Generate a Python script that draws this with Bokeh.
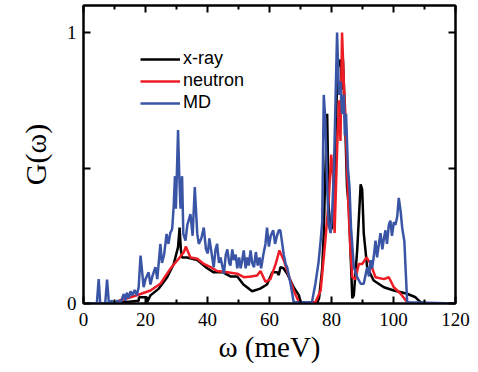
from bokeh.plotting import figure
from bokeh.models import (LinearAxis, FixedTicker, Range1d, Legend, LegendItem)
from bokeh.embed import file_html
from bokeh.resources import INLINE

# ---- data ----
xray_w = [5, 10, 13, 17.8, 17.9, 20.4, 20.5, 21.6, 24.3, 27, 29.1, 30.5, 31, 31.4, 31.8,
          33.4, 36.7, 39.9, 42, 45, 47.4, 49.6, 51.6, 54.4, 57, 59.2, 60.9, 62.5, 63, 63.5,
          64.5, 65.7, 67.8, 69.5, 70, 75.5, 76, 77, 77.5, 78, 78.6, 79.1, 79.7, 80.2, 80.8,
          81.3, 82, 82.9, 83.4, 83.7, 84.5, 85, 85.6, 86.1, 86.7, 87.2, 88.3, 89.4, 89.9,
          90.4, 91.5, 93.6, 96.9, 100.1, 104.4, 107.1, 108.7, 110]
xray_g = [0, 0, 0.005, 0.01, 0.023, 0.023, 0.005, 0.03, 0.055, 0.097, 0.146, 0.208, 0.28, 0.2, 0.17,
          0.17, 0.16, 0.13, 0.115, 0.115, 0.1, 0.1, 0.07, 0.045, 0.055, 0.07, 0.115, 0.115, 0.105, 0.134,
          0.13, 0.11, 0.06, 0.03, 0.005, 0.005, 0.02, 0.13, 0.26, 0.48, 0.70, 0.355, 0.27, 0.28, 0.38,
          0.63, 0.87, 0.90, 0.79, 0.9, 0.63, 0.43, 0.355, 0.2, 0.02, 0.03, 0.2, 0.44, 0.42,
          0.26, 0.134, 0.085, 0.06, 0.048, 0.036, 0.023, 0.005, 0]

neutron_w = [10, 11.4, 15.2, 18.4, 21.6, 24.8, 28, 30.7, 32.4, 33, 34.5, 36.7, 38.8, 41, 43.1,
             46.4, 49.6, 51.7, 54, 56, 57.1, 58.7, 60.3, 62, 63.2, 64.6, 66.2, 67.8, 69.5, 74.8,
             76.5, 78, 79.1, 79.9, 80.5, 81, 81.8, 82.4, 82.9, 83.4, 84, 84.5, 85, 85.6, 86.1,
             86.7, 87.7, 88.8, 89.9, 91.3, 92.6, 94.2, 96.9, 98.5, 100.1, 102.3, 104.4, 106]
neutron_g = [0, 0.01, 0.023, 0.035, 0.048, 0.073, 0.128, 0.165, 0.19, 0.21, 0.17, 0.165, 0.146, 0.134, 0.12,
             0.115, 0.11, 0.097, 0.1, 0.103, 0.12, 0.08, 0.09, 0.146, 0.196, 0.16, 0.103, 0.048, 0.005, 0.005,
             0.048, 0.23, 0.38, 0.55, 0.47, 0.26, 0.565, 0.75, 0.60, 1.0, 0.81, 0.69, 0.5, 0.32, 0.2,
             0.097, 0.09, 0.146, 0.146, 0.17, 0.146, 0.097, 0.09, 0.097, 0.06, 0.036, 0.005, 0]

md_w = [0, 4.3, 4.9, 5.4, 7, 7.6, 8.2, 9, 10, 11, 12, 13, 13.5, 14, 14.6, 15.2, 15.8, 16.5, 17.2,
        17.8, 18.4, 19.4, 20, 21, 21.6, 22.2, 23.2, 23.8, 24.8, 25.3, 26, 26.8, 27.4, 28, 28.6,
        29.1, 29.5, 29.8, 30.1, 30.5, 30.9, 31.3, 31.8, 32.2, 32.9, 33.5, 34.5, 35.2, 35.9, 36.7,
        37.2, 38, 38.8, 39.5, 40.1, 40.6, 41, 42, 42.6, 43.1, 43.7, 44.2, 45.3, 45.9, 46.4, 47,
        47.4, 48, 48.5, 49.1, 49.6, 50.2, 50.7, 51.2, 51.7, 52.3, 52.8, 53.3, 53.9, 54.4, 55,
        55.6, 56.2, 56.8, 57.3, 58, 58.7, 59.2, 59.8, 60.4, 61.2, 61.8, 62.4, 63, 63.5, 64,
        64.6, 65.2, 65.7, 66.8, 67.8, 73.7, 74.8, 75.8, 76.5, 77, 77.5, 78, 78.6, 79.1, 79.7,
        80.2, 80.8, 81.3, 81.8, 82.4, 82.9, 83.4, 84, 84.3, 84.7, 85.3, 85.8, 86.3, 87.2, 88.3,
        89.4, 90.4, 91.5, 92.1, 92.6, 93.1, 93.7, 94.2, 94.7, 95.3, 95.8, 96.4, 96.9, 97.4,
        97.9, 98.5, 99, 99.5, 100.1, 100.6, 101.2, 101.7, 102.3, 102.8, 103.5, 104.4, 120]
md_g = [0, 0, 0.09, 0, 0, 0.088, 0, 0.01, 0, 0.01, 0.005, 0.035, 0.01, 0.04, 0.02, 0.045, 0.03, 0.05, 0.03,
        0.06, 0.177, 0.06, 0.09, 0.115, 0.07, 0.1, 0.134, 0.09, 0.22, 0.15, 0.18, 0.257, 0.22, 0.26, 0.275,
        0.36, 0.47, 0.35, 0.47, 0.64, 0.47, 0.35, 0.47, 0.257, 0.232, 0.29, 0.33, 0.25, 0.43, 0.257,
        0.22, 0.24, 0.28, 0.2, 0.185, 0.24, 0.21, 0.134, 0.2, 0.22, 0.15, 0.17, 0.11, 0.18, 0.2, 0.15,
        0.14, 0.2, 0.16, 0.18, 0.13, 0.17, 0.13, 0.16, 0.196, 0.13, 0.17, 0.14, 0.196, 0.15, 0.134,
        0.19, 0.14, 0.17, 0.13, 0.18, 0.22, 0.28, 0.21, 0.25, 0.27, 0.22, 0.25, 0.27, 0.27, 0.23,
        0.18, 0.146, 0.134, 0.073, 0.005, 0.005, 0.073, 0.15, 0.232, 0.3, 0.77, 0.68, 0.43, 0.29, 0.26,
        0.33, 0.50, 0.75, 1.0, 0.77, 0.82, 0.7, 0.77, 0.62, 0.7, 0.5, 0.43, 0.28, 0.134, 0.097,
        0.073, 0.073, 0.134, 0.1, 0.16, 0.13, 0.18, 0.232, 0.17, 0.22, 0.26, 0.2, 0.24, 0.27,
        0.22, 0.29, 0.306, 0.25, 0.3, 0.29, 0.32, 0.39, 0.34, 0.28, 0.23, 0.005, 0]

x_ticks = [0, 20, 40, 60, 80, 100, 120]
x_minor = [10, 30, 50, 70, 90, 110]
y_ticks = [0, 0.5, 1]
y_labels = {0: "0", 0.5: "", 1: "1"}
series_names = ["x-ray", "neutron", "MD"]
series_colors = ["#000000", "#ee1c25", "#3a55a6"]

SERIF = "Liberation Serif"

p = figure(width=478, height=372, output_backend="svg", toolbar_location=None,
           x_range=Range1d(0, 120), y_range=Range1d(0, 1.1))
p.min_border_left = 83
p.min_border_right = 23
p.min_border_top = 5
p.min_border_bottom = 69
p.background_fill_color = "white"
p.border_fill_color = "white"
p.outline_line_color = "black"
p.outline_line_width = 2
p.xgrid.visible = False
p.ygrid.visible = False


def style_axis(ax, ticks, minor, show_labels):
    ax.ticker = FixedTicker(ticks=ticks, minor_ticks=minor)
    ax.axis_line_color = "black"
    ax.axis_line_width = 2
    ax.major_tick_in = 7
    ax.major_tick_out = 0
    ax.minor_tick_in = 4
    ax.minor_tick_out = 0
    ax.major_tick_line_width = 2
    ax.minor_tick_line_width = 2
    ax.major_label_text_font = SERIF
    ax.major_label_text_font_size = "19px"
    ax.major_label_text_color = "black"
    ax.axis_label_text_color = "black"
    if not show_labels:
        ax.major_label_text_font_size = "0px"
        ax.major_label_standoff = 0


style_axis(p.xaxis[0], x_ticks, x_minor, True)
style_axis(p.yaxis[0], y_ticks, [], True)
p.yaxis[0].major_label_overrides = y_labels
p.xaxis[0].major_label_standoff = 9
p.yaxis[0].major_label_standoff = 7
p.yaxis[0].major_label_orientation = "horizontal"

p.xaxis[0].axis_label = "ω (meV)"
p.xaxis[0].axis_label_text_font = SERIF
p.xaxis[0].axis_label_text_font_size = "29px"
p.xaxis[0].axis_label_text_font_style = "normal"
p.xaxis[0].axis_label_standoff = 2
p.yaxis[0].axis_label = "G(ω)"
p.yaxis[0].axis_label_text_font = SERIF
p.yaxis[0].axis_label_text_font_size = "30px"
p.yaxis[0].axis_label_text_font_style = "normal"
p.yaxis[0].axis_label_standoff = 12

top_ax = LinearAxis()
style_axis(top_ax, x_ticks, x_minor, False)
top_ax.major_label_overrides = {t: "" for t in x_ticks}
p.add_layout(top_ax, "above")
right_ax = LinearAxis()
style_axis(right_ax, y_ticks, [], False)
right_ax.major_label_overrides = {t: "" for t in y_ticks}
p.add_layout(right_ax, "right")

renderers = []
for w, g, c in [(xray_w, xray_g, series_colors[0]),
                (neutron_w, neutron_g, series_colors[1]),
                (md_w, md_g, series_colors[2])]:
    r = p.line(w, g, line_color=c, line_width=2.5)
    renderers.append(r)

legend = Legend(items=[LegendItem(label=n, renderers=[r]) for n, r in zip(series_names, renderers)],
                location=(57, 190))
legend.border_line_color = None
legend.background_fill_alpha = 0
legend.label_text_font = "Liberation Sans"
legend.label_text_font_size = "18px"
legend.label_text_color = "black"
legend.glyph_width = 40
legend.glyph_height = 20
legend.label_height = 20
legend.label_standoff = 3
legend.spacing = 1
legend.padding = 0
legend.margin = 0
p.add_layout(legend)

open("out.html", "w").write(file_html(p, INLINE))
